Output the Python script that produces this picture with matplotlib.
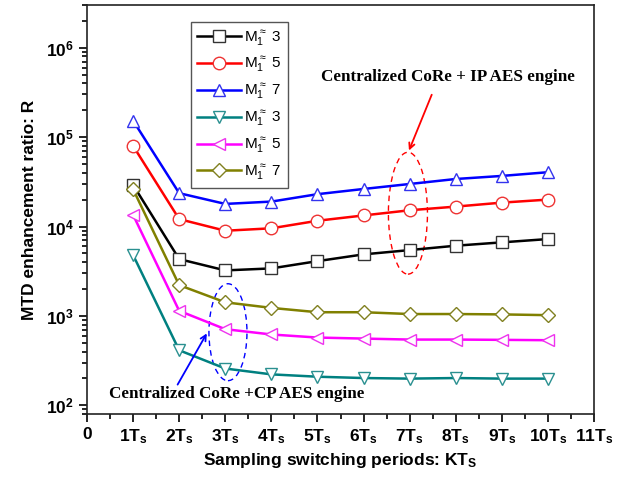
import numpy as np
import matplotlib
matplotlib.use('Agg')
import matplotlib.pyplot as plt
from matplotlib.patches import Ellipse
from matplotlib.ticker import MultipleLocator, LogLocator

plt.rcParams['font.family'] = ['Liberation Sans', 'DejaVu Sans']
plt.rcParams['font.weight'] = 'bold'
plt.rcParams['mathtext.default'] = 'regular'

# sampling periods K
k = np.arange(1, 11)

# centralized CoRe + IP AES engine
ip_m3 = [2.92e4, 4.32e3, 3.23e3, 3.40e3, 4.10e3, 4.88e3, 5.45e3, 6.10e3, 6.65e3, 7.24e3]
ip_m5 = [7.98e4, 1.21e4, 8.97e3, 9.55e3, 1.16e4, 1.33e4, 1.52e4, 1.67e4, 1.85e4, 2.00e4]
ip_m7 = [1.53e5, 2.36e4, 1.79e4, 1.90e4, 2.30e4, 2.63e4, 2.99e4, 3.40e4, 3.68e4, 4.05e4]

# centralized CoRe + CP AES engine
cp_m3 = [4.80e3, 413, 258, 222, 209, 202, 199, 202, 199, 199]
cp_m5 = [1.35e4, 1.14e3, 711, 620, 573, 558, 544, 544, 540, 535]
cp_m7 = [2.61e4, 2.21e3, 1.42e3, 1.23e3, 1.10e3, 1.10e3, 1.05e3, 1.05e3, 1.04e3, 1.02e3]

labels = [r'M$_1^{\approx}$ 3', r'M$_1^{\approx}$ 5', r'M$_1^{\approx}$ 7',
          r'M$_1^{\approx}$ 3', r'M$_1^{\approx}$ 5', r'M$_1^{\approx}$ 7']
xtick_labels = ['0'] + [r'%dT$_s$' % i for i in range(1, 12)]

series = [ip_m3, ip_m5, ip_m7, cp_m3, cp_m5, cp_m7]
colors = ['black', 'red', 'blue', '#008080', '#ff00ff', '#808000']
mcolors = ['#333333', '#ee3333', '#3333ee', '#2a9090', '#ee33ee', '#808020']
markers = ['s', 'o', '^', 'v', '<', 'D']
msizes = [8, 9, 9, 9, 9, 7]

fig = plt.figure(figsize=(6.43, 4.8), dpi=100)
ax = fig.add_axes([0.1353, 0.1375, 0.7885, 0.852])

for y, c, mc, m, ms, lab in zip(series, colors, mcolors, markers, msizes, labels):
    ax.plot(k, y, color=c, lw=1.8, marker=m, ms=ms,
            mfc='white', mec=mc, mew=1.0, label=lab)

ax.set_yscale('log')
ax.set_xlim(0, 11)
ax.set_ylim(80, 3e6)
ax.set_xticks(range(0, 12))
ax.set_xticklabels(xtick_labels)
ax.xaxis.set_minor_locator(MultipleLocator(0.5))
ax.yaxis.set_major_locator(LogLocator(base=10, numticks=10))
ax.yaxis.set_minor_locator(LogLocator(base=10, subs=np.arange(2, 10), numticks=20))

ax.tick_params(which='both', direction='out', top=False, right=False, labelsize=12.5, width=1.2)
ax.tick_params(which='major', length=6)
ax.tick_params(which='minor', length=3.5)
for s in ax.spines.values():
    s.set_linewidth(1.2)
    s.set_color('#222222')

ax.set_xlabel(r'Sampling switching periods: KT$_S$', fontsize=12.5, fontweight='bold', labelpad=4)
ax.set_ylabel('MTD enhancement ratio: R', fontsize=12.5, fontweight='bold', labelpad=6)

leg = ax.legend(loc='upper left', bbox_to_anchor=(0.205, 0.958), borderaxespad=0,
                fancybox=False, framealpha=1, edgecolor='#555555', fontsize=11,
                handlelength=2.9, labelspacing=0.5, handletextpad=0.2, borderpad=0.4)
leg.get_frame().set_linewidth(1.0)
for t in leg.get_texts():
    t.set_fontweight('normal')

# annotations
serif = ['Liberation Serif', 'DejaVu Serif']
ax.text(0.712, 0.824, 'Centralized CoRe + IP AES engine', transform=ax.transAxes,
        ha='center', va='center', fontsize=12.3, fontweight='bold', family=serif)
ax.annotate('', xy=(0.633, 0.638), xytext=(0.682, 0.787), xycoords='axes fraction',
            arrowprops=dict(arrowstyle='->', color='red', lw=1.3))
ax.add_patch(Ellipse((0.633, 0.491), 0.077, 0.298, transform=ax.transAxes,
                     fill=False, ec='red', ls=(0, (4, 3)), lw=1.0))

ax.text(0.296, 0.049, 'Centralized CoRe +CP AES engine', transform=ax.transAxes,
        ha='center', va='center', fontsize=12.3, fontweight='bold', family=serif)
ax.annotate('', xy=(0.239, 0.203), xytext=(0.176, 0.066), xycoords='axes fraction',
            arrowprops=dict(arrowstyle='->', color='blue', lw=1.3))
ax.add_patch(Ellipse((0.278, 0.200), 0.075, 0.237, transform=ax.transAxes,
                     fill=False, ec='blue', ls=(0, (4, 3)), lw=1.0))

fig.savefig('out.png', dpi=100)
